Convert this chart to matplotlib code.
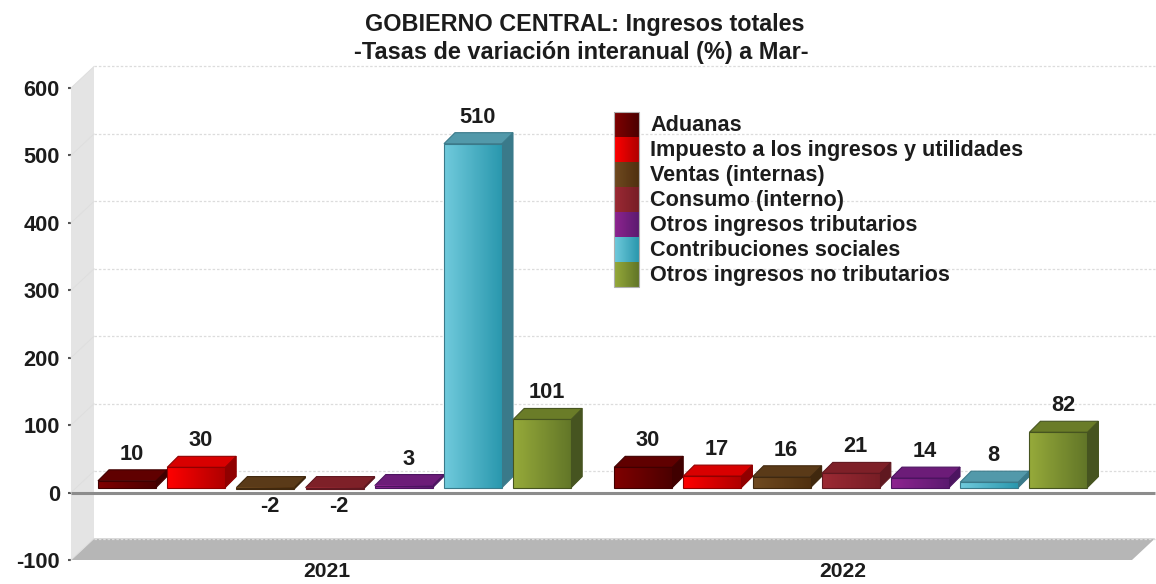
import numpy as np
import matplotlib
matplotlib.use("Agg")
import matplotlib.pyplot as plt
from matplotlib.colors import LinearSegmentedColormap
from matplotlib.patches import Polygon
from matplotlib.transforms import Affine2D

plt.rcParams['font.family'] = ['Liberation Sans', 'DejaVu Sans']
plt.rcParams['font.weight'] = 'bold'

years = ['2021', '2022']
names = ['Aduanas', 'Impuesto a los ingresos y utilidades', 'Ventas (internas)',
         'Consumo (interno)', 'Otros ingresos tributarios',
         'Contribuciones sociales', 'Otros ingresos no tributarios']
aduanas = [10, 30]
impuesto = [30, 17]
ventas = [-2, 16]
consumo = [-2, 21]
otros_trib = [3, 14]
contribuciones = [510, 8]
otros_no_trib = [101, 82]
series = [aduanas, impuesto, ventas, consumo, otros_trib, contribuciones, otros_no_trib]

# light / dark side of the front gradient, then top and side faces
light = ['#800000', '#ff0000', '#704a20', '#9c2a34', '#8e2490', '#70cadc', '#96aa3a']
dark = ['#4c0000', '#b00000', '#50300f', '#781e26', '#5c1a70', '#2a98ae', '#627628']
top_col = ['#600000', '#d80000', '#5a3a18', '#7e2028', '#6c1c78', '#5299aa', '#6a7c28']
side_col = ['#400000', '#900000', '#40280e', '#601820', '#4c1460', '#3a7a8a', '#465420']
yticks = [-100, 0, 100, 200, 300, 400, 500, 600]

W, H = 1156, 584
SLOT = 69.2      # pixels per bar slot on the x axis
PX_Y = 0.674     # pixels per unit on the y axis
BAR = 58 / SLOT
DEPTH = 11       # bar depth, pixels
WALL_X, WALL_Y = 23, 21.5
group_start = [0.39, 7.85]
group_center = [3.7, 11.15]
TXT = '#1c1c1c'

fig = plt.figure(figsize=(W / 100, H / 100), dpi=100)
ax = fig.add_axes([71 / W, (H - 560) / H, 1061 / W, 472 / H])
ax.patch.set_alpha(0)
for s in ax.spines.values():
    s.set_visible(False)
xmax = 1061 / SLOT
wx = WALL_X / SLOT
wy = WALL_Y / PX_Y


def shifted(dx, dy):
    return ax.transData + Affine2D().translate(dx, dy)


# wall and floor
ax.add_patch(Polygon([(0, 600), (wx, 600 + wy), (wx, -100 + wy), (0, -100)],
                     closed=True, fc='#e4e4e4', ec='none', zorder=1, clip_on=False))
ax.add_patch(Polygon([(0, -100), (xmax, -100), (xmax + wx, -100 + wy), (wx, -100 + wy)],
                     closed=True, fc='#b6b6b6', ec='none', zorder=1, clip_on=False))

# gridlines on the back wall
back = shifted(WALL_X, WALL_Y)
for t in yticks:
    ax.plot([0, xmax], [t, t], transform=back, color='#dcdcdc', lw=0.9, ls=(0, (2, 1.5)), zorder=2, clip_on=False)
    ax.plot([0, wx], [t, t + wy], color='#dedede', lw=0.7, zorder=2, clip_on=False)

ax.plot([0, xmax + wx], [0, 0], color='#8c8c8c', lw=2.2, zorder=3, clip_on=False, solid_capstyle='butt')

front = shifted(0, 5)
for g in range(len(years)):
    for i, vals in enumerate(series):
        v = vals[g]
        x0 = group_start[g] + i * 1.0
        x1 = x0 + BAR
        hi = max(v, 0)
        lo = min(v, 0)
        dx = DEPTH / SLOT
        dy = DEPTH / PX_Y
        z = 4 + i * 0.1 + g
        edge = side_col[i]
        ax.add_patch(Polygon([(x1, lo), (x1 + dx, lo + dy), (x1 + dx, hi + dy), (x1, hi)], closed=True,
                             fc=side_col[i], ec=edge, lw=0.8, transform=front, zorder=z, clip_on=False))
        ax.add_patch(Polygon([(x0, hi), (x1, hi), (x1 + dx, hi + dy), (x0 + dx, hi + dy)], closed=True,
                             fc=top_col[i], ec=edge, lw=0.8, transform=front, zorder=z, clip_on=False))
        cmap = LinearSegmentedColormap.from_list('b', [light[i], dark[i]])
        ax.imshow(np.linspace(0, 1, 64).reshape(1, -1), cmap=cmap, extent=[x0, x1, lo, hi], aspect='auto',
                  transform=front, zorder=z, clip_on=False, interpolation='bilinear')
        ax.add_patch(Polygon([(x0, lo), (x1, lo), (x1, hi), (x0, hi)], closed=True, fc='none', ec=edge, lw=0.8,
                             transform=front, zorder=z + 0.01, clip_on=False))
        # value labels
        lx = x0 + (BAR + dx) / 2 - 1 / SLOT
        off = -13 if v < 0 else 31.5
        ax.annotate(str(v), (lx, v), xytext=(0, off), textcoords='offset pixels', ha='center', va='center',
                    fontsize=15.7, color=TXT, zorder=20)

ax.set_xlim(0, xmax)
ax.set_ylim(-100, 600)
ax.set_yticks(yticks)
ax.set_yticklabels([str(t) for t in yticks], fontsize=15.7, color=TXT)
ax.set_xticks(group_center)
ax.set_xticklabels(years, fontsize=15.2, color=TXT)
ax.tick_params(axis='y', length=2, width=1.5, color='#555555', pad=6)
ax.tick_params(axis='x', length=0, pad=1.5)

# legend, drawn by hand because of the stacked swatches
lax = fig.add_axes([0, 0, 1, 1])
lax.axis('off')
lax.patch.set_alpha(0)
for i, name in enumerate(names):
    top = 112 + i * 25
    cmap = LinearSegmentedColormap.from_list('l', [light[i], dark[i]])
    lax.imshow(np.linspace(0, 1, 32).reshape(1, -1), cmap=cmap, extent=[614, 639, top + 25, top], aspect='auto')
    lax.text(650, top + 13.5, name, va='center', ha='left', fontsize=15.6, color=TXT)
lax.add_patch(Polygon([(614, 112), (639, 112), (639, 287), (614, 287)], closed=True, fc='none', ec='#b0b0b0', lw=0.8))
lax.set_xlim(0, W)
lax.set_ylim(H, 0)

lax.text(585, 24, 'GOBIERNO CENTRAL: Ingresos totales', ha='center', va='center', fontsize=16.8, color=TXT)
lax.text(581, 53, '-Tasas de variación interanual (%) a Mar-', ha='center', va='center', fontsize=16.9, color=TXT)

fig.savefig('out.png', dpi=100)
